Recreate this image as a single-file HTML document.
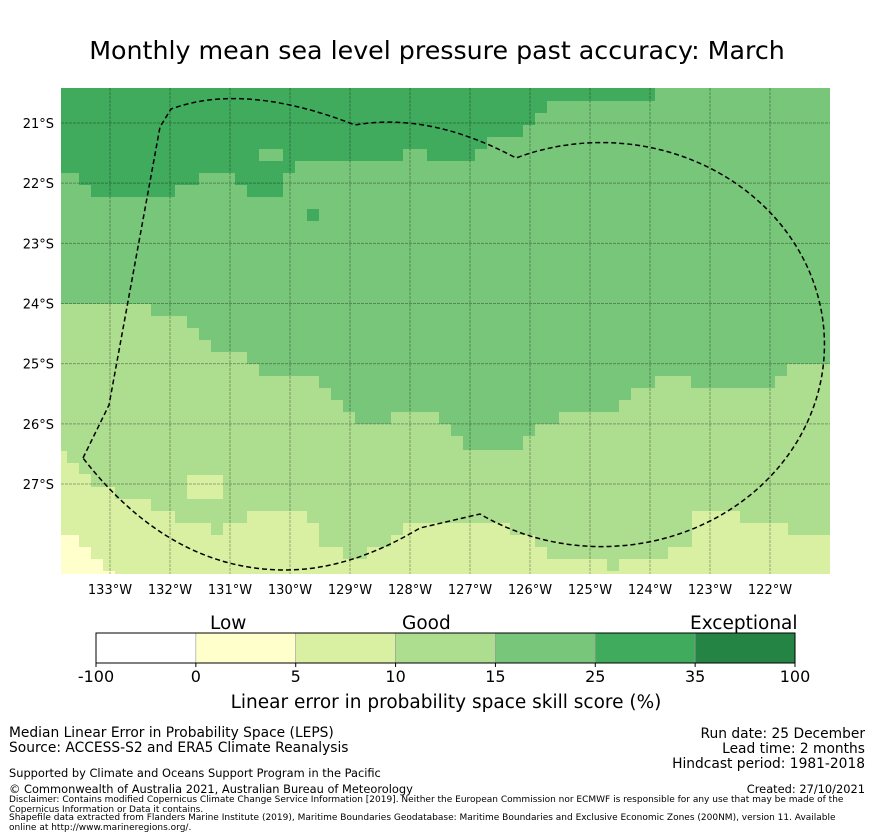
<!DOCTYPE html>
<html><head><meta charset="utf-8">
<style>
body{margin:0;background:#fff;font-family:"DejaVu Sans","Liberation Sans",sans-serif;}
#wrap{position:relative;width:873px;height:839px;overflow:hidden;}
.t{position:absolute;white-space:nowrap;color:#000;}
</style></head>
<body>
<div id="wrap">
<svg id="svg" width="873" height="839" style="position:absolute;left:0;top:0"></svg>
<div class="t" style="left:0;width:874px;text-align:center;top:36px;font-size:25.3px;">Monthly mean sea level pressure past accuracy: March</div>
<div class="t" style="left:210px;top:613px;font-size:18.5px;">Low</div>
<div class="t" style="left:402px;top:613px;font-size:18.5px;">Good</div>
<div class="t" style="left:690px;top:613px;font-size:18.5px;">Exceptional</div>
<div class="t" style="left:0;width:892px;text-align:center;top:692px;font-size:18.5px;">Linear error in probability space skill score (%)</div>
<div class="t" style="left:9px;top:726px;font-size:13.8px;line-height:15px;">Median Linear Error in Probability Space (LEPS)<br>Source: ACCESS-S2 and ERA5 Climate Reanalysis</div>
<div class="t" style="right:8px;top:727px;font-size:13.8px;line-height:15px;text-align:right;">Run date: 25 December<br>Lead time: 2 months<br>Hindcast period: 1981-2018</div>
<div class="t" style="left:9px;top:766px;font-size:11.4px;">Supported by Climate and Oceans Support Program in the Pacific</div>
<div class="t" style="left:9px;top:782px;font-size:11.4px;">© Commonwealth of Australia 2021, Australian Bureau of Meteorology</div>
<div class="t" style="right:8px;top:782px;font-size:11.4px;">Created: 27/10/2021</div>
<div class="t" style="left:9px;top:796px;font-size:9px;line-height:9.5px;">Disclaimer: Contains modified Copernicus Climate Change Service Information [2019]. Neither the European Commission nor ECMWF is responsible for any use that may be made of the<br>Copernicus Information or Data it contains.</div>
<div class="t" style="left:9px;top:813px;font-size:9px;line-height:10px;">Shapefile data extracted from Flanders Marine Institute (2019), Maritime Boundaries Geodatabase: Maritime Boundaries and Exclusive Economic Zones (200NM), version 11. Available<br>online at http://www.marineregions.org/.</div>
</div>
<script>
const lonLabels=["133°W","132°W","131°W","130°W","129°W","128°W","127°W","126°W","125°W","124°W","123°W","122°W"];
const latLabels=["21°S","22°S","23°S","24°S","25°S","26°S","27°S"];
const cbTicks=["-100","0","5","10","15","25","35","100"];
const cbColors=["#ffffff","#ffffcc","#d9f0a3","#addd8e","#78c679","#41ab5d","#238443"];
const darkEdges=[61,79,91,175,199,235,247,283,295,403,427,475,487,523,535,547,655,830];
const darkRows=[173,185,197,185,173,185,197,173,161,149,161,149,137,125,113,101,88];
const lightEdges=[61,151,187,199,211,247,259,319,331,343,355,391,439,451,463,523,535,559,619,631,655,691,775,787,830];
const lightRows=[304,316,328,340,352,364,376,388,400,412,424,412,424,436,450,436,424,412,400,388,376,388,376,364];
const paleEdges=[61,67,79,91,115,151,175,211,223,247,307,319,343,367,391,403,475,510,535,547,607,619,668,692,740,788,830];
const paleRows=[451,463,474,487,499,511,523,535,523,511,523,547,559,547,535,523,523,535,547,559,571,559,547,511,523,535];
const creamEdges=[61,79,91,103,115];
const creamRows=[535,547,559,571];

const NS="http://www.w3.org/2000/svg";
const svg=document.getElementById('svg');
function mk(t,a){const e=document.createElementNS(NS,t);for(const k in a)e.setAttribute(k,a[k]);svg.appendChild(e);return e;}
const X0=61,X1=830,Y0=88,Y1=574;
const xLon=i=>110+60*i, yLat=i=>123+60.17*i;
function stepPath(edges,rows,fromTop){
  let d='M'+edges[0]+','+(fromTop?Y0:Y1);
  for(let i=0;i<rows.length;i++){d+=' L'+edges[i]+','+rows[i]+' L'+edges[i+1]+','+rows[i];}
  d+=' L'+edges[edges.length-1]+','+(fromTop?Y0:Y1)+' Z';return d;
}
let e=mk('rect',{x:X0,y:Y0,width:X1-X0,height:Y1-Y0,fill:'#78c679'});

e=mk('path',{d:stepPath(darkEdges,darkRows,true),fill:'#41ab5d'});

e=mk('rect',{x:259,y:149,width:24,height:12,fill:'#78c679'});

e=mk('rect',{x:307,y:209,width:12,height:12,fill:'#41ab5d'});

e=mk('path',{d:stepPath(lightEdges,lightRows,false),fill:'#addd8e'});

e=mk('path',{d:stepPath(paleEdges,paleRows,false),fill:'#d9f0a3'});

e=mk('rect',{x:187,y:475,width:36,height:24,fill:'#d9f0a3'});

e=mk('path',{d:stepPath(creamEdges,creamRows,false),fill:'#ffffcc'});

lonLabels.forEach((l,i)=>{
  const g=mk('line',{x1:xLon(i),x2:xLon(i),y1:Y0,y2:Y1,stroke:'#000','stroke-opacity':0.3,'stroke-width':1,'stroke-dasharray':'3,1'});
  
  const t=mk('text',{x:xLon(i),y:594,'text-anchor':'middle','font-size':13,'font-family':'DejaVu Sans, sans-serif'});
  t.textContent=l;
});
latLabels.forEach((l,i)=>{
  const g=mk('line',{x1:X0,x2:X1,y1:yLat(i),y2:yLat(i),stroke:'#000','stroke-opacity':0.3,'stroke-width':1,'stroke-dasharray':'3,1'});
  
  const t=mk('text',{x:54,y:yLat(i)+5,'text-anchor':'end','font-size':13,'font-family':'DejaVu Sans, sans-serif'});
  t.textContent=l;
});
e=mk('path',{d:'M83,458 L109,405 L160,127 L171,109 Q245,82 355,125 Q430,112 516,158 A223,202 0 1 1 480,514 L420,528 Q350,570 285,570 Q170,570 83,458 Z',fill:'none',stroke:'#000','stroke-width':1.5,'stroke-dasharray':'5,3'});

const cbX0=96,cbW=699,cbY=633,cbH=30,seg=cbW/cbColors.length;
cbColors.forEach((c,i)=>{
  const r=mk('rect',{x:cbX0+i*seg,y:cbY,width:seg,height:cbH,fill:c,stroke:'#999','stroke-width':0.6});
  
});
e=mk('rect',{x:cbX0,y:cbY,width:cbW,height:cbH,fill:'none',stroke:'#000','stroke-width':1});

cbTicks.forEach((l,i)=>{
  const x=cbX0+i*seg;
  const tk=mk('line',{x1:x,x2:x,y1:cbY+cbH,y2:cbY+cbH+4,stroke:'#000'});
  
  const t=mk('text',{x:x,y:682,'text-anchor':'middle','font-size':16,'font-family':'DejaVu Sans, sans-serif'});
  t.textContent=l;
});
</script>
</body></html>
